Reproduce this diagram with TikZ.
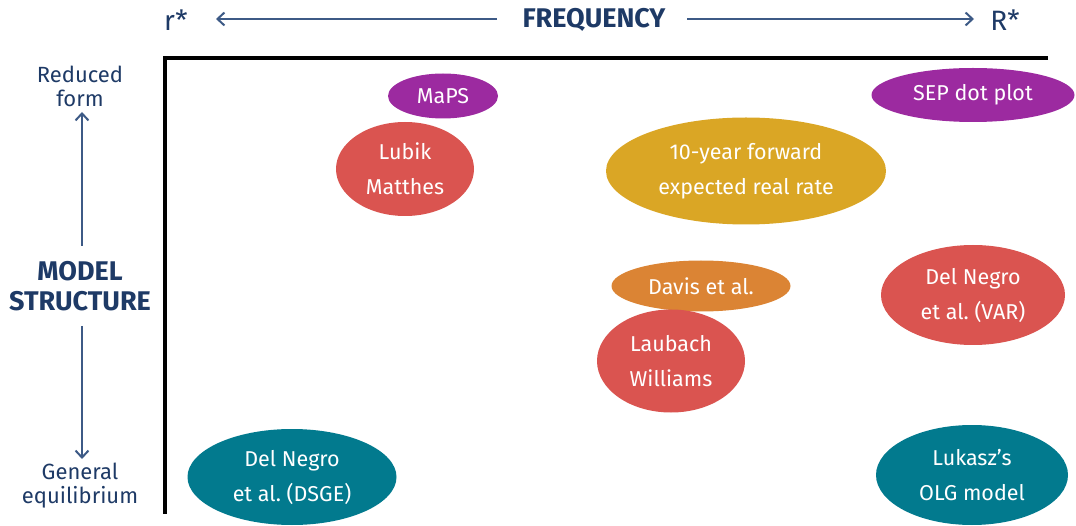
\documentclass[tikz,border=0pt]{standalone}
\usepackage{fontspec}
\setmainfont{Fira Sans}
\usetikzlibrary{shapes.geometric,arrows.meta}
\definecolor{navy}{HTML}{1E3A66}
\definecolor{arrowblue}{HTML}{3D5A86}
\definecolor{cpurple}{HTML}{9C2AA0}
\definecolor{cred}{HTML}{DA5450}
\definecolor{cgold}{HTML}{DAA625}
\definecolor{corange}{HTML}{DB8434}
\definecolor{cteal}{HTML}{027A8E}
\tikzset{
  blob/.style={ellipse, draw=none, text=white, align=center, inner sep=0pt,
    font=\fontsize{21.5}{35}\selectfont},
  hand/.style={text=navy, align=center, font=\fontsize{22}{24}\selectfont},
  head/.style={text=navy, align=center, font=\bfseries\fontsize{27}{30}\selectfont},
  axarrow/.style={arrowblue, line width=2pt, -{Straight Barb[length=7pt,width=13pt]}},
  axis/.style={black, line width=3.5pt}
}
\begin{document}
\begin{tikzpicture}[x=1pt,y=-1pt]
\useasboundingbox (0,0) rectangle (1076,526);
% axes
\coordinate (corner) at (165,58);
\coordinate (axtop) at (1048,58);
\coordinate (axbot) at (165,514);
\draw[axis, line cap=butt] (axtop) -- (corner) -- (axbot);
% top labels
\node[hand, font=\fontsize{28}{30}\selectfont] (rs) at (176,20) {r*};
\node[head] (freq) at (594,20) {FREQUENCY};
\node[hand, font=\fontsize{28}{30}\selectfont] (Rs) at (1005,20) {R*};
\coordinate (la) at (216,19);
\coordinate (ra) at (974,19);
\coordinate (fl) at (497,19);
\coordinate (fr) at (687,19);
\draw[axarrow] (fl) -- (la);
\draw[axarrow] (fr) -- (ra);
% left labels
\node[hand] (red) at (80,86) {Reduced\\form};
\node[head] (ms) at (80,286) {MODEL\\STRUCTURE};
\node[hand] (ge) at (80,486) {General\\equilibrium};
\coordinate (ua) at (82,246);
\coordinate (ub) at (82,112);
\coordinate (da) at (82,326);
\coordinate (db) at (82,459);
\draw[axarrow] (ua) -- (ub);
\draw[axarrow] (da) -- (db);
% ellipses
\node[blob, fill=cpurple, minimum width=110pt, minimum height=45pt] (maps) at (443,96) {MaPS};
\node[blob, fill=cpurple, minimum width=203pt, minimum height=54pt] (sep) at (973,95) {SEP dot plot};
\node[blob, fill=cred, minimum width=138pt, minimum height=94pt] (lubik) at (405,169) {Lubik\\Matthes};
\node[blob, fill=cgold, minimum width=280pt, minimum height=107pt] (ten) at (746,171) {10-year forward\\expected real rate};
\node[blob, fill=corange, minimum width=179pt, minimum height=51pt] (davis) at (701,286) {Davis et al.};
\node[blob, fill=cred, minimum width=148pt, minimum height=103pt] (lw) at (671,361) {Laubach\\Williams};
\node[blob, fill=cred, minimum width=184pt, minimum height=100pt] (dnv) at (973,295) {Del Negro\\et al.\ (VAR)};
\node[blob, fill=cteal, minimum width=192pt, minimum height=100pt] (olg) at (972,475) {Lukasz’s\\OLG model};
\node[blob, fill=cteal, minimum width=209pt, minimum height=96pt] (dsge) at (292,477) {Del Negro\\et al.\ (DSGE)};
\end{tikzpicture}
\end{document}
